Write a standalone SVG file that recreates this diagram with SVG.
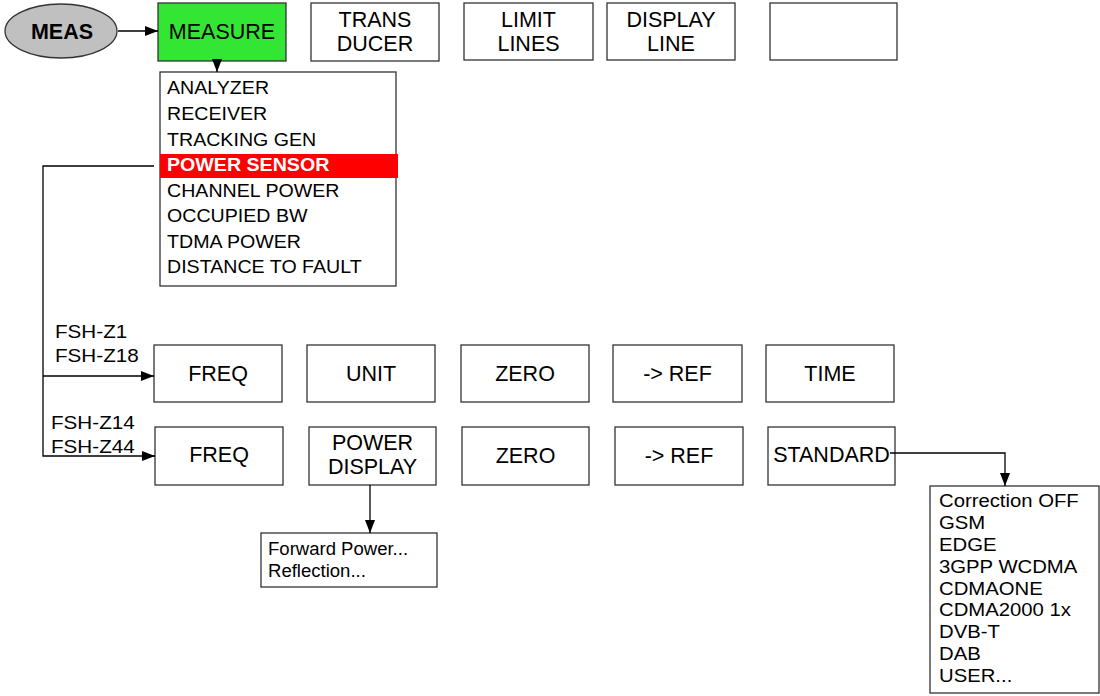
<svg xmlns="http://www.w3.org/2000/svg" width="1100" height="696" viewBox="0 0 1100 696">
<defs>
<marker id="arr" markerWidth="13" markerHeight="10" refX="13" refY="5" orient="auto" markerUnits="userSpaceOnUse">
<path d="M0,0 L13,5 L0,10 Z" fill="#000"/>
</marker>
<style>
.box{fill:#fff;stroke:#333;stroke-width:1.3}
.t{font-family:"Liberation Sans",Arial,sans-serif;font-size:21.5px;fill:#000;text-anchor:middle}
.m{font-family:"Liberation Sans",Arial,sans-serif;font-size:18px;fill:#000}
.l{font-family:"Liberation Sans",Arial,sans-serif;font-size:17.5px;fill:#000}
.f{font-family:"Liberation Sans",Arial,sans-serif;font-size:17.5px;fill:#000}
.c{fill:none;stroke:#000;stroke-width:1.3}
</style>
</defs>
<rect width="1100" height="696" fill="#fff"/>

<g id="meas">
<ellipse cx="61" cy="31" rx="56" ry="27" fill="#c0c0c0" stroke="#333" stroke-width="1.3"/>
<text class="t" x="62" y="38.5" font-weight="bold" font-size="21">MEAS</text>
</g>
<g id="measure">
<rect x="158" y="3" width="128" height="58" fill="#33e633" stroke="#333" stroke-width="1.3"/>
<text class="t" x="222" y="38.5">MEASURE</text>
</g>
<g id="transducer">
<rect class="box" x="311" y="3" width="128" height="58"/>
<text class="t" x="375" y="26.5">TRANS</text>
<text class="t" x="375" y="50.5">DUCER</text>
</g>
<g id="limitlines">
<rect class="box" x="464" y="3" width="129" height="57"/>
<text class="t" x="528.5" y="26.5">LIMIT</text>
<text class="t" x="528.5" y="50.5">LINES</text>
</g>
<g id="displayline">
<rect class="box" x="607" y="3" width="128" height="57"/>
<text class="t" x="671" y="26.5">DISPLAY</text>
<text class="t" x="671" y="50.5">LINE</text>
</g>
<g id="empty">
<rect class="box" x="770" y="3" width="127" height="57"/>
</g>

<g id="menu">
<rect class="box" x="160" y="72" width="236" height="214"/>
<rect x="160" y="154" width="238" height="24" fill="#ff0000"/>
<g transform="translate(167,0) scale(1.09,1)">
<text class="m" x="0" y="94.5">ANALYZER</text>
<text class="m" x="0" y="120">RECEIVER</text>
<text class="m" x="0" y="145.7">TRACKING GEN</text>
<text class="m" x="0" y="171" font-weight="bold" style="fill:#fff">POWER SENSOR</text>
<text class="m" x="0" y="196.8">CHANNEL POWER</text>
<text class="m" x="0" y="222.4">OCCUPIED BW</text>
<text class="m" x="0" y="248">TDMA POWER</text>
<text class="m" x="0" y="273.5">DISTANCE TO FAULT</text>
</g>
</g>

<g id="fsh-labels">
<g transform="translate(55,0) scale(1.18,1)">
<text class="f" x="0" y="338">FSH-Z1</text>
<text class="f" x="0" y="362">FSH-Z18</text>
</g>
<g transform="translate(51,0) scale(1.18,1)">
<text class="f" x="0" y="429">FSH-Z14</text>
<text class="f" x="0" y="453">FSH-Z44</text>
</g>
</g>

<g id="freq1">
<rect class="box" x="154" y="345" width="128" height="57"/>
<text class="t" x="218" y="381">FREQ</text>
</g>
<g id="unit">
<rect class="box" x="307" y="345" width="128" height="57"/>
<text class="t" x="371" y="381">UNIT</text>
</g>
<g id="zero1">
<rect class="box" x="461" y="345" width="128" height="57"/>
<text class="t" x="525" y="381">ZERO</text>
</g>
<g id="ref1">
<rect class="box" x="613" y="345" width="129" height="57"/>
<text class="t" x="677.5" y="381">-&gt; REF</text>
</g>
<g id="time">
<rect class="box" x="766" y="345" width="128" height="57"/>
<text class="t" x="830" y="381">TIME</text>
</g>

<g id="freq2">
<rect class="box" x="155" y="427" width="128" height="58"/>
<text class="t" x="219" y="462">FREQ</text>
</g>
<g id="powerdisplay">
<rect class="box" x="309" y="427" width="127" height="58"/>
<text class="t" x="372.5" y="449.5">POWER</text>
<text class="t" x="372.5" y="473.5">DISPLAY</text>
</g>
<g id="zero2">
<rect class="box" x="462" y="427" width="127" height="58"/>
<text class="t" x="525.5" y="462.5">ZERO</text>
</g>
<g id="ref2">
<rect class="box" x="615" y="427" width="128" height="58"/>
<text class="t" x="679" y="462.5">-&gt; REF</text>
</g>
<g id="standard">
<rect class="box" x="768" y="427" width="127" height="58"/>
<text class="t" x="831.5" y="462" font-size="19.5">STANDARD</text>
</g>

<g id="powerlist">
<rect class="box" x="261" y="533" width="176" height="54"/>
<g transform="translate(268,0) scale(1.06,1)">
<text class="l" x="0" y="555" font-size="19.2">Forward Power...</text>
<text class="l" x="0" y="577" font-size="19.2">Reflection...</text>
</g>
</g>

<g id="standardlist">
<rect class="box" x="930" y="486" width="169" height="207"/>
<g transform="translate(939,0) scale(1.16,1)">
<text class="l" x="0" y="507">Correction OFF</text>
<text class="l" x="0" y="529">GSM</text>
<text class="l" x="0" y="551">EDGE</text>
<text class="l" x="0" y="573">3GPP WCDMA</text>
<text class="l" x="0" y="595">CDMAONE</text>
<text class="l" x="0" y="616.5">CDMA2000 1x</text>
<text class="l" x="0" y="638">DVB-T</text>
<text class="l" x="0" y="660">DAB</text>
<text class="l" x="0" y="682">USER...</text>
</g>
</g>

<g id="connectors">
<line class="c" x1="118" y1="31" x2="158" y2="31" marker-end="url(#arr)"/>
<line class="c" x1="217" y1="61" x2="217" y2="72" marker-end="url(#arr)"/>
<polyline class="c" points="154,166 43,166 43,456 155,456" marker-end="url(#arr)"/>
<line class="c" x1="43" y1="376" x2="154" y2="376" marker-end="url(#arr)"/>
<line class="c" x1="370" y1="485" x2="370" y2="533" marker-end="url(#arr)"/>
<polyline class="c" points="890,453 1005,453 1005,486" marker-end="url(#arr)"/>
</g>
</svg>
